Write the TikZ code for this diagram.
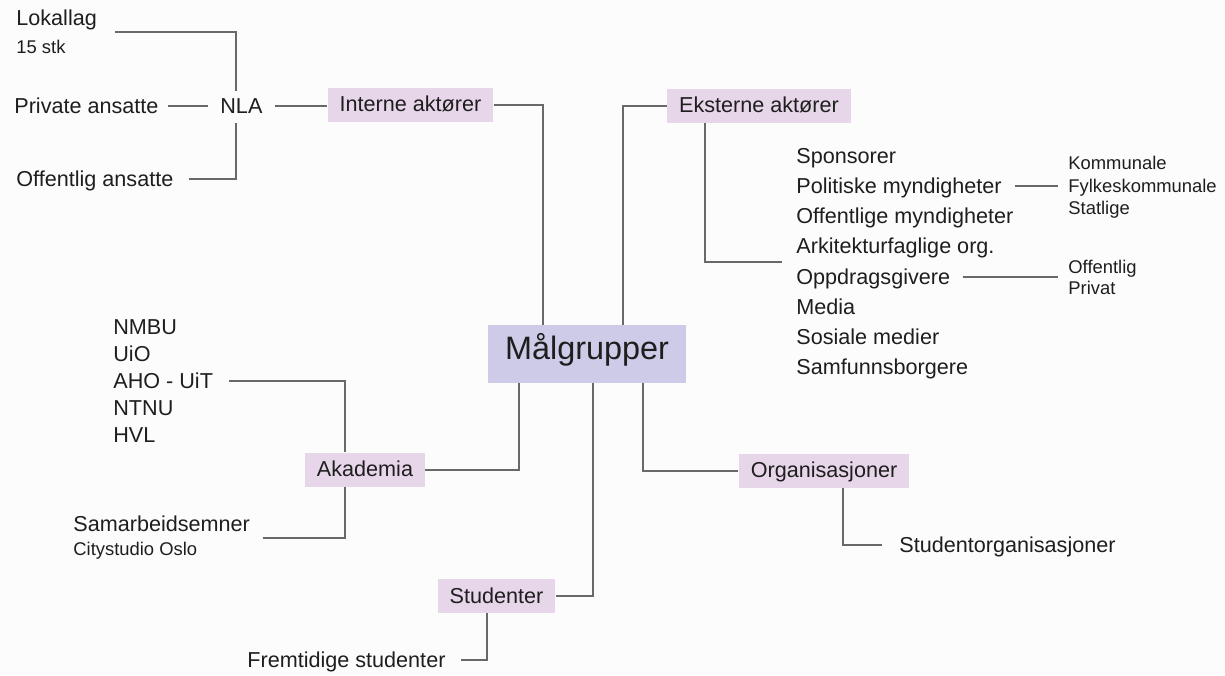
\documentclass[tikz,border=0pt]{standalone}
\usepackage{fontspec}
\setmainfont{Liberation Sans}
\usepackage{tikz}
\usetikzlibrary{fit,positioning}
\definecolor{boxpink}{RGB}{231,214,233}
\definecolor{boxlilac}{RGB}{205,203,231}
\definecolor{linegray}{RGB}{105,105,105}
\definecolor{textgray}{RGB}{30,30,30}
\definecolor{paper}{RGB}{252,252,253}
\newcommand{\normtext}{\fontsize{10.8}{13}\selectfont}
\newcommand{\smalltext}{\fontsize{9.2}{11.2}\selectfont}
\tikzset{
    %Define style for the centre box
    hub/.style={
           rectangle,
           fill=boxlilac,
           text=textgray,
           font=\fontsize{16.2}{19}\selectfont,
           inner xsep=8.5pt,
           minimum height=29pt,
           text height=.72em,
           text depth=.15em},
    %Define style for group boxes
    group/.style={
           rectangle,
           fill=boxpink,
           text=textgray,
           font=\normtext,
           inner xsep=6pt,
           minimum height=17pt,
           text height=.72em,
           text depth=0pt},
    %Define style for plain labels
    item/.style={
           text=textgray,
           font=\normtext,
           inner sep=0pt,
           text height=.72em,
           text depth=0pt},
    rowright/.style={item, minimum height=14.7pt},
    rowleft/.style={item, minimum height=13.15pt},
    %Define style for labels on several lines
    block/.style={
           text=textgray,
           font=\normtext,
           inner sep=0pt,
           align=left},
    % Define line style
    link/.style={
           draw=linegray,
           line width=1pt}
}

\begin{document}
\begin{tikzpicture}[x=0.5pt,y=-0.5pt]
\fill[paper] (0,0) rectangle (1225,675);
\useasboundingbox (0,0) rectangle (1225,675);
 %boxes
\node[hub] (mal) at (587,354) {Målgrupper};
\node[group] (interne) at (410.5,104.5) {Interne aktører};
\node[group] (eksterne) at (759,105.5) {Eksterne aktører};
\node[group] (akademia) at (365,469.5) {Akademia};
\node[group] (studenter) at (496.5,596) {Studenter};
\node[group] (org) at (824,470.5) {Organisasjoner};
 %interne
\node[item, anchor=west] (nla) at (220,106) {NLA};
\node[item, anchor=west] (priv) at (14,106) {Private ansatte};
\node[item, anchor=west] (offent) at (16,179) {Offentlig ansatte};
\node[block, anchor=west] (lokal) at (16,32) {Lokallag\\[1pt]{\smalltext 15 stk}};
 %eksterne
\node[rowright, anchor=west] (sponsor) at (796,156) {Sponsorer};
\node[rowright, below right=0pt and 0pt of sponsor.south west] (polit) {Politiske myndigheter};
\node[rowright, below right=0pt and 0pt of polit.south west] (offmynd) {Offentlige myndigheter};
\node[rowright, below right=0pt and 0pt of offmynd.south west] (arkorg) {Arkitekturfaglige org.};
\node[rowright, below right=0pt and 0pt of arkorg.south west] (oppdrag) {Oppdragsgivere};
\node[rowright, below right=0pt and 0pt of oppdrag.south west] (media) {Media};
\node[rowright, below right=0pt and 0pt of media.south west] (sosiale) {Sosiale medier};
\node[rowright, below right=0pt and 0pt of sosiale.south west] (samfunn) {Samfunnsborgere};
\node[fit=(sponsor)(samfunn), inner sep=0pt] (extlist) {};
\node[block, font=\smalltext, anchor=west] (nivaa) at (1068,187.5) {Kommunale\\Fylkeskommunale\\Statlige};
\node[block, font=\smalltext, anchor=west] (sektor) at (1068,277.6) {Offentlig\\[-0.7pt]Privat};
 %akademia
\node[rowleft, anchor=west] (nmbu) at (113,327) {NMBU};
\node[rowleft, below right=0pt and 0pt of nmbu.south west] (uio) {UiO};
\node[rowleft, below right=0pt and 0pt of uio.south west] (aho) {AHO - UiT};
\node[rowleft, below right=0pt and 0pt of aho.south west] (ntnu) {NTNU};
\node[rowleft, below right=0pt and 0pt of ntnu.south west] (hvl) {HVL};
\node[block, anchor=west] (samarb) at (73,538) {Samarbeidsemner\\[-1pt]{\smalltext Citystudio Oslo}};
 %studenter og organisasjoner
\node[item, anchor=west] (fremtid) at (247,660) {Fremtidige studenter};
\node[item, anchor=west] (studorg) at (899,545) {Studentorganisasjoner};
 %connectors
\draw[link] (interne.east) -| ([xshift=-22pt]mal.north);
\draw[link] (eksterne.west) -| ([xshift=18pt]mal.north);
\draw[link] (akademia.east) -| ([xshift=-34pt]mal.south);
\draw[link] (studenter.east) -| ([xshift=3pt]mal.south);
\draw[link] (org.west) -| ([xshift=28pt]mal.south);
\draw[link, shorten <=6pt] (nla.east) -- (nla.east -| interne.west);
\draw[link, shorten <=4.5pt, shorten >=6pt] (priv.east) -- (nla.west);
\draw[link, shorten <=9pt, shorten >=3.5pt] (lokal.east) -| ([xshift=-2.5pt]nla.north);
\draw[link, shorten <=7.5pt, shorten >=4.5pt] (offent.east) -| ([xshift=-2.5pt]nla.south);
\draw[link, shorten >=7pt] ([xshift=-27pt]eksterne.south) |- (extlist.west);
\draw[link, shorten <=6.5pt, shorten >=5pt] (polit.east) -- (polit.east -| nivaa.west);
\draw[link, shorten <=6pt, shorten >=5pt] (oppdrag.east) -- (oppdrag.east -| sektor.west);
\draw[link, shorten <=8pt] (aho.east) -| ([xshift=-10pt]akademia.north);
\draw[link, shorten <=6.25pt] (samarb.east) -| ([xshift=-10pt]akademia.south);
\draw[link, shorten <=7.5pt] (fremtid.east) -| ([xshift=-5pt]studenter.south);
\draw[link, shorten >=8.5pt] ([xshift=9.5pt]org.south) |- (studorg.west);
\end{tikzpicture}
\end{document}
